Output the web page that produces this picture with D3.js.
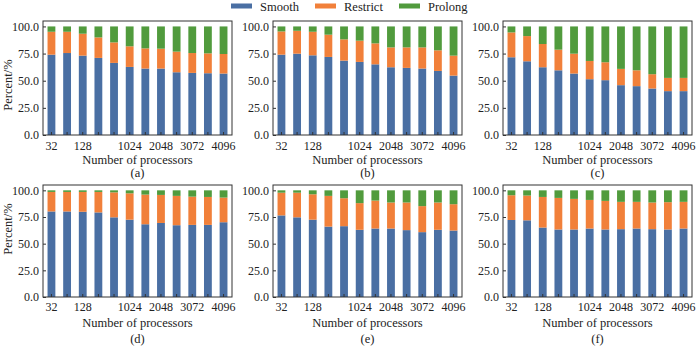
<!DOCTYPE html>
<html>
<head>
<meta charset="utf-8">
<script src="https://cdn.jsdelivr.net/npm/d3@7"></script>
<style>
  body { margin: 0; background: #fff; }
  text { font-family: "Liberation Serif", "Times New Roman", "DejaVu Serif", serif; fill: #222; }
</style>
</head>
<body>
<div class="canva"></div>
<script>
// processor counts (12 bars per panel)
var processors = ["32","64","128","256","512","1024","1536","2048","2560","3072","3584","4096"];
var shownTicks = ["32","128","1024","2048","3072","4096"];
var yTicks = [0, 25, 50, 75, 100];
var seriesNames = ["Smooth", "Restrict", "Prolong"];
var colors = ["#4a6fa3", "#f1803a", "#519b3d"];
var panelNames = ["(a)", "(b)", "(c)", "(d)", "(e)", "(f)"];

// percent of time for each phase
var smoothA   = [74.0,75.5,73.1,71.0,66.4,62.7,61.2,61.2,57.8,57.2,56.9,56.6];
var restrictA = [21.1,19.6,20.2,18.9,18.9,19.0,18.6,18.3,19.0,18.3,18.3,18.0];
var prolongA  = [4.9,4.9,6.7,10.1,14.7,18.3,20.2,20.5,23.2,24.5,24.8,25.4];

var smoothB   = [74.0,74.9,73.4,71.9,68.5,67.3,65.1,62.4,61.8,61.2,59.0,54.7];
var restrictB = [21.4,21.1,21.7,20.5,19.6,19.6,19.3,18.3,18.9,19.5,19.0,18.4];
var prolongB  = [4.6,4.0,4.9,7.6,11.9,13.1,15.6,19.3,19.3,19.3,22.0,26.9];

var smoothC   = [71.6,67.9,62.4,59.6,56.6,51.4,50.5,45.9,45.0,42.8,40.4,40.4];
var restrictC = [22.9,23.2,21.4,19.0,18.3,16.8,16.5,15.0,14.6,13.2,12.2,12.2];
var prolongC  = [5.5,8.9,16.2,21.4,25.1,31.8,33.0,39.1,40.4,44.0,47.4,47.4];

var smoothD   = [80.2,80.2,79.9,79.3,74.7,72.5,68.2,69.4,67.3,67.6,67.6,70.1];
var restrictD = [18.3,18.3,18.6,19.2,23.4,24.7,27.8,26.3,27.5,26.5,26.2,23.1];
var prolongD  = [1.5,1.5,1.5,1.5,1.9,2.8,4.0,4.3,5.2,5.9,6.2,6.8];

var smoothE   = [76.5,74.7,72.5,66.0,66.4,63.0,64.2,64.2,62.7,60.8,63.0,62.3];
var restrictE = [21.3,23.1,23.8,28.8,26.2,25.0,26.2,24.4,25.9,24.4,25.6,24.7];
var prolongE  = [2.2,2.2,3.7,5.2,7.4,12.0,9.6,11.4,11.4,14.8,11.4,13.0];

var smoothF   = [72.2,71.9,65.1,63.3,63.3,64.2,63.3,63.6,64.2,63.6,63.3,64.2];
var restrictF = [23.2,23.2,28.7,29.6,28.7,26.8,26.8,25.6,25.0,25.0,25.6,25.0];
var prolongF  = [4.6,4.9,6.2,7.1,8.0,9.0,9.9,10.8,10.8,11.4,11.1,10.8];

var panels = [
  [smoothA, restrictA, prolongA],
  [smoothB, restrictB, prolongB],
  [smoothC, restrictC, prolongC],
  [smoothD, restrictD, prolongD],
  [smoothE, restrictE, prolongE],
  [smoothF, restrictF, prolongF]
];

const svg = d3.select(".canva").append("svg")
              .attr("width", 700)
              .attr("height", 346);

const colLeft = [43, 273, 503];
const panelWidth = 189;
const rows = [
  {top: 21, bottom: 135, tickY: 146, labelY: 160, nameY: 173, ylabY: 85},
  {top: 185, bottom: 297, tickY: 307, labelY: 323, nameY: 339, ylabY: 229}
];

panels.forEach(function(series, p) {
  var row = rows[Math.floor(p / 3)];
  var left = colLeft[p % 3];

  var x = d3.scaleBand()
            .domain(processors)
            .range([left, left + panelWidth])
            .paddingInner(0.5)
            .paddingOuter(0.29);

  var y = d3.scaleLinear()
            .domain([0, 105])
            .range([row.bottom, row.top]);

  var rowsData = processors.map(function(d, i) {
    var o = {proc: d};
    seriesNames.forEach(function(s, k) { o[s] = series[k][i]; });
    return o;
  });

  var stacked = d3.stack().keys(seriesNames)(rowsData);

  var g = svg.append("g");

  g.selectAll("g.layer")
   .data(stacked)
   .enter()
   .append("g")
   .attr("fill", (d, k) => colors[k])
   .selectAll("rect")
   .data(d => d)
   .enter()
   .append("rect")
   .attr("x", d => x(d.data.proc))
   .attr("width", x.bandwidth())
   .attr("y", d => y(d[1]))
   .attr("height", d => y(d[0]) - y(d[1]));

  // frame
  g.append("rect")
   .attr("x", left)
   .attr("y", row.top)
   .attr("width", panelWidth)
   .attr("height", row.bottom - row.top)
   .attr("fill", "none")
   .attr("stroke", "#333")
   .attr("stroke-width", 1);

  var yAxis = d3.axisLeft(y)
                .tickValues(yTicks)
                .tickFormat(d3.format(".1f"))
                .tickSizeInner(-3)
                .tickSizeOuter(0)
                .tickPadding(4);
  var ya = g.append("g")
            .attr("transform", `translate(${left},0)`)
            .call(yAxis);
  ya.select(".domain").remove();
  ya.selectAll("line").attr("stroke", "#333");
  ya.selectAll("text").attr("font-size", 12).attr("fill", "#222")
    .attr("font-family", "Liberation Serif");

  var xAxis = d3.axisBottom(x)
                .tickSizeInner(-3)
                .tickSizeOuter(0)
                .tickFormat(d => shownTicks.indexOf(d) >= 0 ? d : "");
  var xa = g.append("g")
            .attr("transform", `translate(0,${row.bottom})`)
            .call(xAxis);
  xa.select(".domain").remove();
  xa.selectAll("line").attr("stroke", "#333");
  xa.selectAll("text").attr("font-size", 12).attr("fill", "#222")
    .attr("font-family", "Liberation Serif")
    .attr("y", row.tickY - row.bottom).attr("dy", "0.35em");

  g.append("text")
   .attr("x", left + panelWidth / 2)
   .attr("y", row.labelY)
   .attr("dy", "0.35em")
   .attr("text-anchor", "middle")
   .attr("font-size", 12.5)
   .text("Number of processors");

  g.append("text")
   .attr("x", left + panelWidth / 2)
   .attr("y", row.nameY)
   .attr("dy", "0.35em")
   .attr("text-anchor", "middle")
   .attr("font-size", 12.5)
   .text(panelNames[p]);

  if (p % 3 === 0) {
    g.append("text")
     .attr("transform", `translate(8,${row.ylabY}) rotate(-90)`)
     .attr("dy", "0.35em")
     .attr("text-anchor", "middle")
     .attr("font-size", 12.5)
     .text("Percent/%");
  }
});

// legend
var legend = svg.append("g").selectAll("g")
                .data(seriesNames)
                .enter()
                .append("g")
                .attr("transform", (d, i) => `translate(${231 + i * 84},0)`);
legend.append("rect")
      .attr("x", 0).attr("y", 3.5)
      .attr("width", 21).attr("height", 5)
      .attr("fill", (d, i) => colors[i]);
legend.append("text")
      .attr("x", 29).attr("y", 7)
      .attr("dy", "0.35em")
      .attr("font-size", 12.5)
      .text(d => d);
</script>
</body>
</html>
